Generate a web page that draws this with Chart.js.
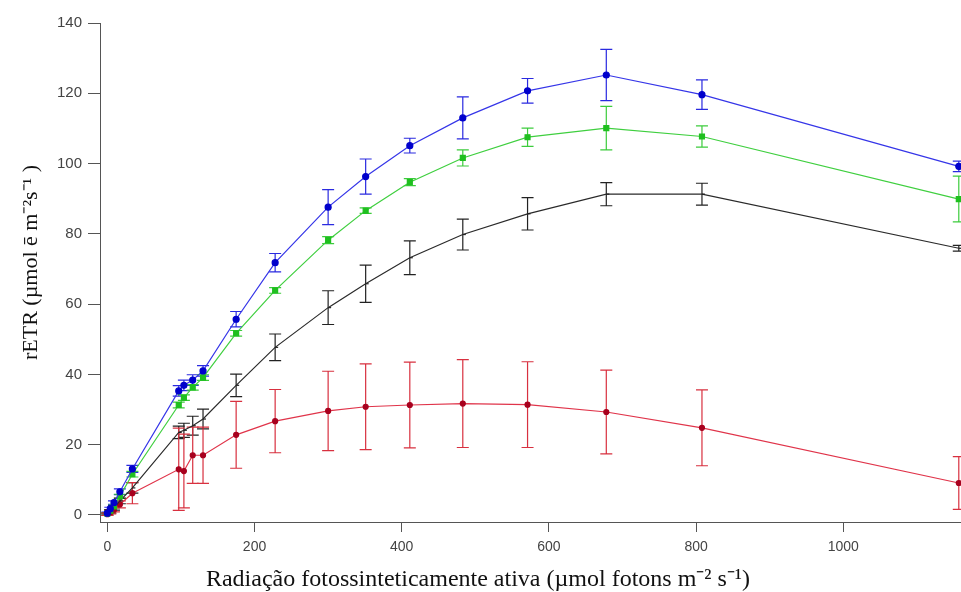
<!DOCTYPE html>
<html>
<head>
<meta charset="utf-8">
<script src="https://cdn.jsdelivr.net/npm/chart.js@4/dist/chart.umd.min.js"></script>
<style>
  html, body { margin: 0; padding: 0; background: #fff; overflow: hidden; }
  canvas { display: block; }
</style>
</head>
<body>
<canvas id="c" width="961" height="592"></canvas>
<script>
// PAR values (µmol fotons m-2 s-1)
const par = [0, 4, 9, 17, 34, 97, 104, 116, 130, 175, 228, 300, 351, 411, 483, 571, 678, 808, 1157];

const blueY   = [0.5, 1.8, 3.5, 6.6, 13.1, 35.3, 36.9, 38.4, 41.0, 55.7, 71.8, 87.6, 96.3, 105.1, 113.0, 120.7, 125.2, 119.6, 99.2];
const blueErr = [0.3, 0.4, 0.5, 0.8, 1.0, 1.5, 1.5, 1.5, 1.5, 2.2, 2.6, 5.0, 5.0, 2.1, 6.0, 3.5, 7.3, 4.2, 1.5];

const greenY   = [0.4, 1.2, 2.4, 5.3, 11.6, 31.3, 33.4, 36.3, 39.1, 51.7, 63.9, 78.2, 86.6, 94.7, 101.6, 107.5, 110.1, 107.7, 89.9];
const greenErr = [0.2, 0.3, 0.4, 0.6, 0.8, 0.8, 0.8, 0.8, 0.8, 0.8, 0.8, 1.0, 0.8, 1.0, 2.3, 2.6, 6.2, 3.0, 6.5];

const blackY   = [0.2, 1.0, 2.0, 4.0, 7.7, 23.5, 24.1, 25.4, 27.3, 36.9, 47.7, 59.0, 65.8, 73.2, 79.8, 85.7, 91.3, 91.3, 75.9];
const blackErr = [0.3, 0.5, 0.6, 0.8, 1.5, 1.8, 2.0, 2.7, 2.8, 3.2, 3.8, 4.8, 5.3, 4.8, 4.4, 4.6, 3.3, 3.1, 0.8];

const redY   = [0.2, 0.8, 1.5, 3.0, 6.2, 13.0, 12.5, 17.0, 17.0, 22.8, 26.7, 29.6, 30.8, 31.3, 31.7, 31.4, 29.3, 24.8, 9.1];
const redErr = [0.3, 0.5, 0.6, 1.0, 3.0, 11.7, 10.5, 8.0, 8.0, 9.5, 9.0, 11.3, 12.2, 12.2, 12.5, 12.2, 11.9, 10.8, 7.5];

const xTicks = [0, 200, 400, 600, 800, 1000];
const yTicks = [0, 20, 40, 60, 80, 100, 120, 140];

const xTitle = 'Radiação fotossinteticamente ativa (µmol fotons m⁻² s⁻¹)';
const yTitle = 'rETR (µmol ē m⁻²s⁻¹ )';

function pts(ys) { return par.map((x, i) => ({ x: x, y: ys[i] })); }

const errorBars = {
  id: 'errorBars',
  beforeDatasetsDraw(chart) {
    const ctx = chart.ctx;
    const xs = chart.scales.x, ys = chart.scales.y;
    const a = chart.chartArea;
    ctx.save();
    ctx.beginPath();
    ctx.rect(a.left, 0, chart.width - a.left, chart.height);
    ctx.clip();
    chart.data.datasets.forEach((ds, di) => {
      if (!chart.isDatasetVisible(di)) return;
      ctx.strokeStyle = ds.errColor;
      ctx.lineWidth = 1.2;
      ds.data.forEach((p, i) => {
        const e = ds.errors[i];
        const px = xs.getPixelForValue(p.x);
        const y1 = ys.getPixelForValue(p.y + e);
        const y2 = ys.getPixelForValue(p.y - e);
        const cap = 6;
        ctx.beginPath();
        ctx.moveTo(px, y1); ctx.lineTo(px, y2);
        ctx.moveTo(px - cap, y1); ctx.lineTo(px + cap, y1);
        ctx.moveTo(px - cap, y2); ctx.lineTo(px + cap, y2);
        ctx.stroke();
      });
    });
    ctx.restore();
  }
};

const axisTitles = {
  id: 'axisTitles',
  afterDraw(chart) {
    const ctx = chart.ctx;
    const a = chart.chartArea;
    ctx.save();
    ctx.fillStyle = '#111';
    ctx.textAlign = 'center';
    ctx.textBaseline = 'middle';
    ctx.font = '24px "Liberation Serif"';
    ctx.fillText(xTitle, a.left + 378, chart.height - 12);
    ctx.translate(31, (a.top + a.bottom) / 2 - 10);
    ctx.rotate(-Math.PI / 2);
    ctx.font = '22px "Liberation Serif"';
    ctx.fillText(yTitle, 0, 0);
    ctx.restore();
  }
};

new Chart(document.getElementById('c'), {
  type: 'line',
  data: {
    datasets: [
      { label: 'blue', data: pts(blueY), errors: blueErr, errColor: '#2a2ae0',
        borderColor: '#3535e8', backgroundColor: '#0000cc', pointBorderColor: '#0000cc',
        pointStyle: 'circle', pointRadius: 3, borderWidth: 1.2 },
      { label: 'green', data: pts(greenY), errors: greenErr, errColor: '#3ccc3c',
        borderColor: '#3fcf3f', backgroundColor: '#1fbf1f', pointBorderColor: '#1fbf1f',
        pointStyle: 'rect', pointRadius: 3.5, borderWidth: 1.2 },
      { label: 'black', data: pts(blackY), errors: blackErr, errColor: '#222222',
        borderColor: '#2a2a2a', backgroundColor: '#222222', pointBorderColor: '#222222',
        pointStyle: 'dash', pointRadius: 3, borderWidth: 1.2 },
      { label: 'red', data: pts(redY), errors: redErr, errColor: '#d8303f',
        borderColor: '#e0344a', backgroundColor: '#a8001e', pointBorderColor: '#a8001e',
        pointStyle: 'circle', pointRadius: 2.5, borderWidth: 1.2 }
    ]
  },
  options: {
    responsive: false,
    animation: false,
    layout: { autoPadding: false, padding: { top: 23, right: 0, bottom: 0, left: 0 } },
    plugins: { legend: { display: false }, tooltip: { enabled: false } },
    elements: { line: { tension: 0 } },
    scales: {
      x: {
        type: 'linear', min: -10, max: 1160,
        afterBuildTicks: s => { s.ticks = xTicks.map(v => ({ value: v })); },
        afterFit: s => { s.height = 70; },
        grid: { drawOnChartArea: false, drawTicks: true, tickLength: 10, color: '#555', lineWidth: 1 },
        border: { display: true, color: '#555', width: 1 },
        ticks: { color: '#444', padding: 7, maxRotation: 0, callback: v => String(v),
                 font: { family: 'Liberation Sans', size: 14 } },
        title: { display: false }
      },
      y: {
        type: 'linear', min: -2, max: 140,
        afterBuildTicks: s => { s.ticks = yTicks.map(v => ({ value: v })); },
        afterFit: s => { s.width = 100; },
        grid: { drawOnChartArea: false, drawTicks: true, tickLength: 12, color: '#555', lineWidth: 1 },
        border: { display: true, color: '#555', width: 1 },
        ticks: { color: '#444', padding: 6, callback: v => String(v),
                 font: { family: 'Liberation Sans', size: 15 } },
        title: { display: false }
      }
    }
  },
  plugins: [errorBars, axisTitles]
});
</script>
</body>
</html>
